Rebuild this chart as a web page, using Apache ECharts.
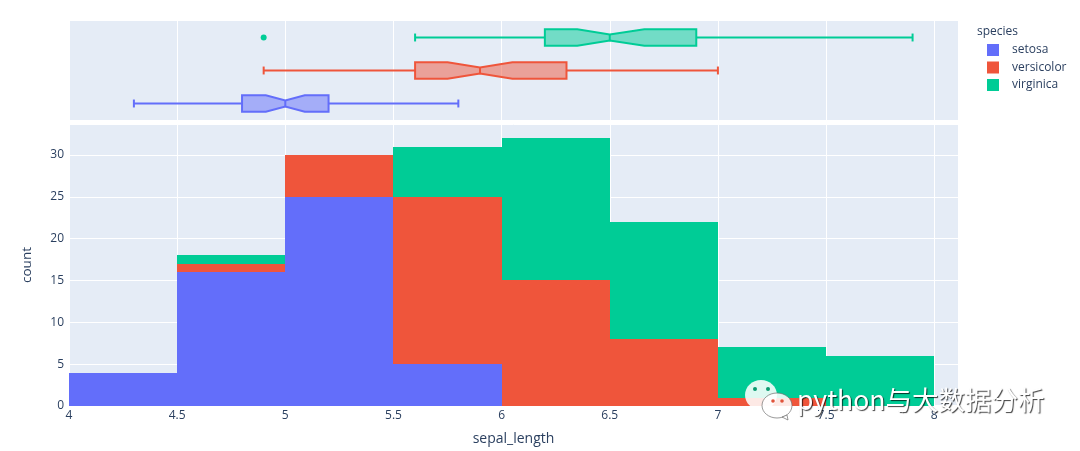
<!DOCTYPE html>
<html><head><meta charset="utf-8">
<style>html,body{margin:0;padding:0;background:#fff}#c{width:1080px;height:451px}</style>
<script src="https://cdn.jsdelivr.net/npm/echarts@6/dist/echarts.min.js"></script>
</head><body><div id="c"></div>
<script>
const binStarts = [4, 4.5, 5, 5.5, 6, 6.5, 7, 7.5];
const binWidth = 0.5;
const species = ['setosa', 'versicolor', 'virginica'];
const colors = ['#636EFA', '#EF553B', '#00CC96'];
const setosaCounts = [4, 16, 25, 5, 0, 0, 0, 0];
const versicolorCounts = [0, 1, 5, 20, 15, 8, 1, 0];
const virginicaCounts = [0, 1, 0, 6, 17, 14, 6, 6];
// whisker low, q1, notch low, median, notch high, q3, whisker high
const setosaBox = [4.3, 4.8, 4.91, 5.0, 5.09, 5.2, 5.8];
const versicolorBox = [4.9, 5.6, 5.75, 5.9, 6.05, 6.3, 7.0];
const virginicaBox = [5.6, 6.2, 6.35, 6.5, 6.66, 6.9, 7.9];
const virginicaOutliers = [4.9];

const countSets = [setosaCounts, versicolorCounts, virginicaCounts];
const boxSets = [setosaBox, versicolorBox, virginicaBox];
const textColor = '#2a3f5f';
const font = '"Open Sans", "Liberation Sans", sans-serif';

const baseTotals = binStarts.map(() => 0);
const histSeries = species.map((name, s) => {
  const data = binStarts.map((x, i) => {
    const lo = baseTotals[i];
    const hi = lo + countSets[s][i];
    baseTotals[i] = hi;
    return [x, x + binWidth, lo, hi];
  });
  return {
    type: 'custom', name, xAxisIndex: 0, yAxisIndex: 0, clip: true,
    itemStyle: { color: colors[s] },
    encode: { x: [0, 1], y: [2, 3] },
    data,
    renderItem(params, api) {
      const p0 = api.coord([api.value(0), api.value(2)]);
      const p1 = api.coord([api.value(1), api.value(3)]);
      const x0 = Math.round(p0[0]), x1 = Math.round(p1[0]);
      const y0 = Math.round(p0[1]), y1 = Math.round(p1[1]);
      return { type: 'rect', shape: { x: x0, y: y1, width: x1 - x0, height: y0 - y1 },
        style: { fill: colors[s] } };
    }
  };
});

const boxSeries = species.map((name, s) => ({
  type: 'custom', name, xAxisIndex: 1, yAxisIndex: 1,
  itemStyle: { color: colors[s] },
  encode: { x: [0, 1, 2, 3, 4, 5, 6], y: 7 },
  data: [[...boxSets[s], s]],
  renderItem(params, api) {
    const cat = api.value(7);
    const X = i => api.coord([api.value(i), cat])[0];
    const yc = api.coord([api.value(3), cat])[1];
    const band = api.size([0, 1])[1];
    const h = band * 0.25, nh = h * 0.38, cap = band * 0.12;
    const pts = [
      [X(1), yc - h], [X(2), yc - h], [X(3), yc - nh], [X(4), yc - h], [X(5), yc - h],
      [X(5), yc + h], [X(4), yc + h], [X(3), yc + nh], [X(2), yc + h], [X(1), yc + h]
    ];
    const line = (x1, y1, x2, y2) => ({ type: 'line', shape: { x1, y1, x2, y2 },
      style: { stroke: colors[s], lineWidth: 2, fill: null } });
    return { type: 'group', children: [
      { type: 'polygon', shape: { points: pts },
        style: { fill: echarts.color.modifyAlpha(colors[s], 0.5), stroke: colors[s], lineWidth: 2 } },
      line(X(3), yc - nh, X(3), yc + nh),
      line(X(0), yc, X(1), yc),
      line(X(5), yc, X(6), yc),
      line(X(0), yc - cap, X(0), yc + cap),
      line(X(6), yc - cap, X(6), yc + cap)
    ] };
  }
}));

const outlierSeries = {
  type: 'scatter', name: 'virginica', xAxisIndex: 1, yAxisIndex: 1,
  symbol: 'circle', symbolSize: 6, itemStyle: { color: colors[2], opacity: 1 },
  data: virginicaOutliers.map(v => [v, 2])
};

const xCommon = {
  type: 'value', min: 4, max: 8.11, interval: 0.5,
  axisTick: { show: false }, axisLine: { show: false },
  splitLine: { show: true, lineStyle: { color: '#fff', width: 1 } }
};

const markShadow = { textShadowColor: 'rgba(0,0,0,0.75)', textShadowBlur: 1, textShadowOffsetX: 1, textShadowOffsetY: 1 };
const bubbleFill = 'rgba(255,255,255,0.87)';
const bubbleEdge = 'rgba(110,110,110,0.7)';

const option = {
  animation: false,
  backgroundColor: '#fff',
  textStyle: { fontFamily: font },
  title: { text: 'species', left: 977, top: 26, padding: 0, textStyle: { fontSize: 12, fontWeight: 'normal', color: textColor, fontFamily: font } },
  legend: {
    orient: 'vertical', left: 987, top: 44, padding: 0, icon: 'rect', itemWidth: 12, itemHeight: 12, itemGap: 5.5,
    data: species, selectedMode: false,
    textStyle: { fontSize: 12, color: textColor, fontFamily: font, padding: [0, 0, 0, 8] }
  },
  grid: [
    { left: 69, right: 122, top: 124, height: 282, backgroundColor: '#E5ECF6', show: true, borderWidth: 0 },
    { left: 69, right: 122, top: 21, height: 99, backgroundColor: '#E5ECF6', show: true, borderWidth: 0 }
  ],
  xAxis: [
    { ...xCommon, gridIndex: 0, name: 'sepal_length', nameLocation: 'middle', nameGap: 26,
      nameTextStyle: { fontSize: 14, color: textColor, fontFamily: font },
      axisLine: { show: true, onZero: false, lineStyle: { color: '#fff', width: 2 } },
      axisLabel: { color: textColor, fontSize: 12, margin: 4, fontFamily: font, showMaxLabel: false } },
    { ...xCommon, gridIndex: 1, axisLabel: { show: false } }
  ],
  yAxis: [
    { type: 'value', gridIndex: 0, min: 0, max: 33.7, interval: 5, name: 'count', nameLocation: 'middle', nameGap: 35,
      nameTextStyle: { fontSize: 13.5, color: textColor, fontFamily: font },
      axisTick: { show: false }, axisLine: { show: false },
      splitLine: { show: true, lineStyle: { color: '#fff', width: 1 } },
      axisLabel: { color: textColor, fontSize: 12, margin: 5, fontFamily: font, showMaxLabel: false, padding: [4, 0, 0, 0] } },
    { type: 'category', gridIndex: 1, data: species, axisTick: { show: false }, axisLine: { show: false },
      axisLabel: { show: false }, splitLine: { show: false } }
  ],
  series: [...histSeries, ...boxSeries, outlierSeries],
  graphic: [
    { type: 'group', silent: true, children: [
      { type: 'polygon', z: 100, shape: { points: [[750, 407], [747, 413], [757, 409]] }, style: { fill: bubbleFill } },
      { type: 'ellipse', z: 100, shape: { cx: 761, cy: 395, rx: 16, ry: 15 }, style: { fill: bubbleFill } },
      { type: 'circle', z: 101, shape: { cx: 755, cy: 389, r: 2 }, style: { fill: '#0a9a70' } },
      { type: 'circle', z: 101, shape: { cx: 768, cy: 389, r: 2 }, style: { fill: '#0a9a70' } },
      { type: 'ellipse', z: 102, shape: { cx: 777, cy: 405.5, rx: 15, ry: 12.5 }, style: { fill: bubbleFill, stroke: bubbleEdge, lineWidth: 1 } },
      { type: 'polygon', z: 102, shape: { points: [[782, 417], [788, 420], [787, 415]] }, style: { fill: bubbleFill, stroke: bubbleEdge, lineWidth: 1 } },
      { type: 'circle', z: 103, shape: { cx: 773, cy: 401, r: 1.8 }, style: { fill: '#e0533a' } },
      { type: 'circle', z: 103, shape: { cx: 782, cy: 401, r: 1.8 }, style: { fill: '#e0533a' } },
      { type: 'text', z: 104, x: 797, y: 387, style: { text: 'python与大数据分析', fontSize: 26.5,
        fontFamily: '"Noto Sans CJK SC", "Noto Sans", sans-serif', fill: '#fff', ...markShadow } }
    ] }
  ]
};
echarts.init(document.getElementById('c'), null, { renderer: 'canvas' }).setOption(option);
</script></body></html>
